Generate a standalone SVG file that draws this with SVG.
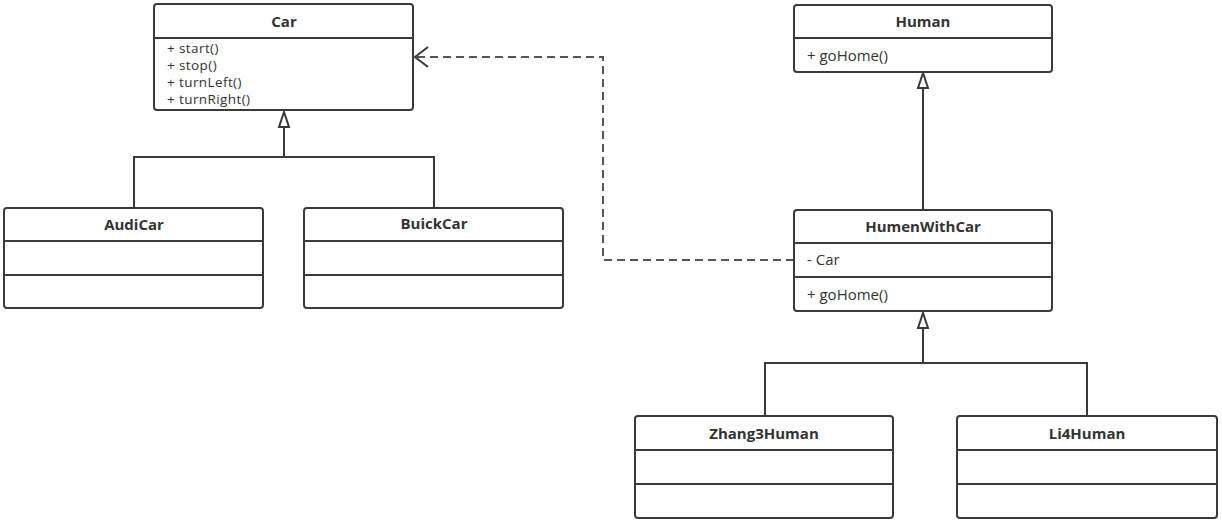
<svg xmlns="http://www.w3.org/2000/svg" width="1222" height="523" viewBox="0 0 1222 523">
<defs>
<style>
.box{fill:#fff;stroke:#3a3a3a;stroke-width:2}
.sep{stroke:#3a3a3a;stroke-width:2}
.title{font-family:"Open Sans","Noto Sans",sans-serif;font-size:15px;font-weight:bold;fill:#333;text-anchor:middle}
.attr{font-family:"Open Sans","Noto Sans",sans-serif;font-size:15px;fill:#333}
.meth{font-family:"Open Sans","Noto Sans",sans-serif;font-size:13.5px;letter-spacing:0.4px;fill:#333}
.edge{fill:none;stroke:#3a3a3a;stroke-width:2}
.dash{fill:none;stroke:#555;stroke-width:2;stroke-dasharray:8,5}
.tri{fill:#fff;stroke:#3a3a3a;stroke-width:2}
</style>
</defs>
<rect width="1222" height="523" fill="#fff"/>
<g id="connectors">
<polyline class="edge" points="134,208 134,157 434,157 434,208"/>
<line class="edge" x1="284" y1="157" x2="284" y2="127"/>
<polygon class="tri" points="284,112 279,127 289,127"/>
<line class="edge" x1="923" y1="210" x2="923" y2="88"/>
<polygon class="tri" points="923,73 918,88 928,88"/>
<polyline class="edge" points="765,416 765,363 1087,363 1087,416"/>
<line class="edge" x1="923" y1="363" x2="923" y2="328"/>
<polygon class="tri" points="923,313 918,328 928,328"/>
<polyline class="dash" points="794,260 603,260 603,57 416,57"/>
<polyline class="edge" points="428,47 415,57 428,67" stroke="#555"/>
</g>
<g id="Car">
<rect class="box" x="154" y="4" width="259" height="106" rx="3"/>
<line class="sep" x1="154" y1="38" x2="413" y2="38"/>
<text class="title" x="284" y="27">Car</text>
<text class="meth" x="167" y="53">+ start()</text>
<text class="meth" x="167" y="70">+ stop()</text>
<text class="meth" x="167" y="87">+ turnLeft()</text>
<text class="meth" x="167" y="104">+ turnRight()</text>
</g>
<g id="AudiCar">
<rect class="box" x="4" y="208" width="259" height="100" rx="3"/>
<line class="sep" x1="4" y1="241" x2="263" y2="241"/>
<line class="sep" x1="4" y1="275" x2="263" y2="275"/>
<text class="title" x="134" y="230">AudiCar</text>
</g>
<g id="BuickCar">
<rect class="box" x="304" y="208" width="259" height="100" rx="3"/>
<line class="sep" x1="304" y1="241" x2="563" y2="241"/>
<line class="sep" x1="304" y1="275" x2="563" y2="275"/>
<text class="title" x="434" y="229">BuickCar</text>
</g>
<g id="Human">
<rect class="box" x="794" y="5" width="258" height="67" rx="3"/>
<line class="sep" x1="794" y1="38" x2="1052" y2="38"/>
<text class="title" x="923" y="27">Human</text>
<text class="attr" x="807" y="61">+ goHome()</text>
</g>
<g id="HumenWithCar">
<rect class="box" x="794" y="210" width="258" height="101" rx="3"/>
<line class="sep" x1="794" y1="243" x2="1052" y2="243"/>
<line class="sep" x1="794" y1="277" x2="1052" y2="277"/>
<text class="title" x="923" y="232">HumenWithCar</text>
<text class="attr" x="807" y="265">- Car</text>
<text class="attr" x="807" y="300">+ goHome()</text>
</g>
<g id="Zhang3Human">
<rect class="box" x="635" y="416" width="258" height="102" rx="3"/>
<line class="sep" x1="635" y1="450" x2="893" y2="450"/>
<line class="sep" x1="635" y1="484" x2="893" y2="484"/>
<text class="title" x="764" y="439">Zhang3Human</text>
</g>
<g id="Li4Human">
<rect class="box" x="957" y="416" width="260" height="102" rx="3"/>
<line class="sep" x1="957" y1="450" x2="1217" y2="450"/>
<line class="sep" x1="957" y1="484" x2="1217" y2="484"/>
<text class="title" x="1087" y="439">Li4Human</text>
</g>
</svg>
